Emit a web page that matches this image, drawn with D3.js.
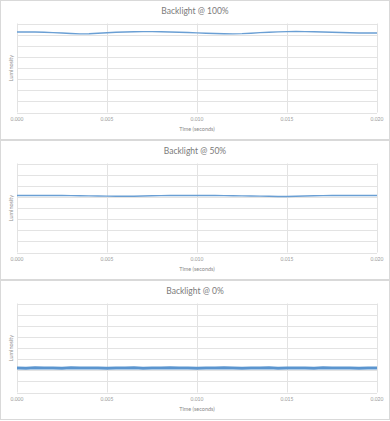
<!DOCTYPE html>
<html>
<head>
<meta charset="utf-8">
<script src="https://cdn.jsdelivr.net/npm/d3@7"></script>
<style>
  body { margin: 0; background: #fff; }
  svg { display: block; }
  text { font-family: Lato, "Open Sans", sans-serif; }
</style>
</head>
<body>
<svg id="chart" width="390" height="421"></svg>
<script>
// time samples (seconds), one every 0.0005 s
var times = d3.range(41).map(i => +(i * 0.0005).toFixed(4));

var xTicks = [0, 0.005, 0.01, 0.015, 0.02];
var yTicks = [0, 1, 2, 3, 4, 5, 6, 7, 8];

var titles = ["Backlight @ 100%", "Backlight @ 50%", "Backlight @ 0%"];

// luminosity (arbitrary units)
var lum100 = [7.24, 7.25, 7.24, 7.22, 7.18, 7.14, 7.10, 7.07, 7.08, 7.12,
              7.17, 7.21, 7.24, 7.26, 7.27, 7.27, 7.26, 7.24, 7.22, 7.19,
              7.16, 7.13, 7.10, 7.08, 7.07, 7.09, 7.13, 7.18, 7.22, 7.25,
              7.27, 7.28, 7.27, 7.26, 7.24, 7.22, 7.19, 7.17, 7.15, 7.14, 7.14];
var lum50 = [5.12, 5.12, 5.13, 5.13, 5.13, 5.12, 5.11, 5.10, 5.09, 5.08,
             5.07, 5.06, 5.05, 5.06, 5.08, 5.10, 5.11, 5.12, 5.12, 5.13,
             5.13, 5.12, 5.12, 5.11, 5.10, 5.09, 5.08, 5.07, 5.06, 5.04,
             5.04, 5.06, 5.08, 5.10, 5.11, 5.12, 5.12, 5.13, 5.13, 5.13, 5.13];
var lum0 = [2.21, 2.19, 2.22, 2.20, 2.21, 2.19, 2.22, 2.20, 2.21, 2.20,
            2.19, 2.21, 2.20, 2.22, 2.19, 2.21, 2.20, 2.22, 2.20, 2.21,
            2.19, 2.21, 2.20, 2.22, 2.20, 2.19, 2.21, 2.20, 2.22, 2.19,
            2.21, 2.20, 2.21, 2.19, 2.22, 2.20, 2.21, 2.20, 2.19, 2.21, 2.20];

var series = [lum100, lum50, lum0];
var strokes = [1.4, 1.4, 3];
var colors = ["#6a9fd4", "#6a9fd4", "#5b95cf"];

var svg = d3.select("#chart");
var panelH = 140;

var x = d3.scaleLinear().domain([0, 0.02]).range([17, 377]);
var y = d3.scaleLinear().domain([0, 8]).range([112.5, 23.5]);

series.forEach(function(values, p) {
    var g = svg.append("g").attr("transform", "translate(0," + (p * panelH) + ")");

    g.append("rect")
        .attr("x", 0.5).attr("y", 0.5)
        .attr("width", 389).attr("height", panelH - 1)
        .attr("fill", "#fff")
        .attr("stroke", "#d9d9d9");

    g.append("text")
        .attr("x", 195).attr("y", 13.5)
        .attr("text-anchor", "middle")
        .attr("font-size", 8.5)
        .attr("fill", "#7a7a7a")
        .text(titles[p]);

    // horizontal gridlines
    g.append("g").selectAll("line")
        .data(yTicks)
        .enter().append("line")
        .attr("x1", x(0)).attr("x2", x(0.02))
        .attr("y1", d => Math.round(y(d)) + 0.5)
        .attr("y2", d => Math.round(y(d)) + 0.5)
        .attr("stroke", "#e3e3e3");

    // vertical gridlines
    g.append("g").selectAll("line")
        .data(xTicks)
        .enter().append("line")
        .attr("x1", d => Math.round(x(d)) + 0.5)
        .attr("x2", d => Math.round(x(d)) + 0.5)
        .attr("y1", y(8)).attr("y2", y(0))
        .attr("stroke", "#e3e3e3");

    // x tick labels
    g.append("g").selectAll("text")
        .data(xTicks)
        .enter().append("text")
        .attr("x", d => x(d))
        .attr("y", 121)
        .attr("text-anchor", "middle")
        .attr("font-size", 5)
        .attr("fill", "#9a9a9a")
        .text(d => d3.format(".3f")(d));

    g.append("text")
        .attr("x", 197).attr("y", 130.5)
        .attr("text-anchor", "middle")
        .attr("font-size", 5.5)
        .attr("fill", "#8a8a8a")
        .text("Time (seconds)");

    g.append("text")
        .attr("transform", "translate(13," + ((y(0) + y(8)) / 2) + ") rotate(-90)")
        .attr("text-anchor", "middle")
        .attr("font-size", 5.5)
        .attr("fill", "#8a8a8a")
        .text("Luminosity");

    var line = d3.line()
        .x((d, i) => x(times[i]))
        .y(d => y(d));

    g.append("path")
        .datum(values)
        .attr("d", line)
        .attr("fill", "none")
        .attr("stroke", colors[p])
        .attr("stroke-width", strokes[p])
        .attr("stroke-linejoin", "round");
});
</script>
</body>
</html>
